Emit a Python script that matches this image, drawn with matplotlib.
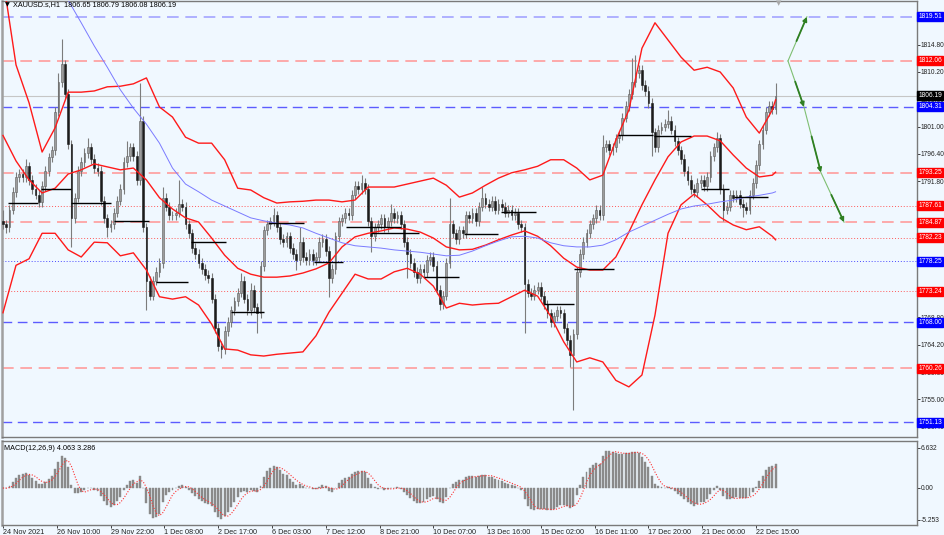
#!/usr/bin/env python
# -*- coding: utf-8 -*-
"""
XAUUSD H1 chart redraw (24 Nov -> 22 Dec 2021) with bands, MA, levels and MACD.

Prices were read off the chart and stored as 2-hour candles.
"""

import numpy as np
import pandas as pd
import matplotlib
matplotlib.use("Agg")
import matplotlib.pyplot as plt

# ============
#  DATA
# ============

FIRST_OPEN = 1785.0

# closes, one per 2-hour candle
CLOSES = [
    1784.5, 1784.0, 1787.0, 1790.0, 1792.5, 1793.0, 1792.5, 1794.3, 1792.0, 1790.5,
    1789.5, 1788.3, 1791.0, 1793.5, 1795.8, 1797.0, 1803.5, 1808.5, 1811.5, 1806.5,
    1798.0, 1785.5, 1789.0, 1793.5, 1795.0, 1796.5, 1797.5, 1795.5, 1794.0, 1793.5,
    1788.5, 1785.5, 1784.0, 1784.5, 1786.5, 1788.5, 1790.5, 1795.0, 1796.0, 1797.5,
    1796.0, 1792.0, 1802.0, 1784.0, 1775.0, 1772.5, 1775.0, 1776.5, 1778.0, 1789.0,
    1787.5, 1786.0, 1786.0, 1786.5, 1788.0, 1787.5, 1784.5, 1783.0, 1780.5, 1779.5,
    1778.0, 1777.0, 1776.0, 1775.5, 1772.0, 1767.0, 1764.0, 1763.5, 1766.5, 1768.0,
    1770.0, 1771.5, 1773.0, 1775.0, 1772.0, 1770.0, 1773.5, 1770.5, 1769.5, 1777.5,
    1783.5, 1784.5, 1785.0, 1786.0, 1784.0, 1782.0, 1781.5, 1782.5, 1780.5, 1779.5,
    1778.5, 1781.5, 1779.0, 1778.5, 1779.5, 1778.5, 1779.0, 1781.5, 1782.0, 1780.0,
    1775.5, 1777.0, 1782.5, 1785.0, 1785.5, 1786.5, 1786.0, 1789.5, 1791.0, 1790.5,
    1791.5, 1790.5, 1785.0, 1782.5, 1784.0, 1784.5, 1785.5, 1784.0, 1785.0, 1786.5,
    1785.5, 1786.0, 1784.5, 1781.5, 1779.5, 1778.0, 1776.5, 1775.5, 1777.0, 1776.5,
    1778.5, 1779.0, 1777.5, 1773.5, 1771.0, 1772.5, 1778.0, 1784.5, 1783.0, 1782.0,
    1783.5, 1783.0, 1786.0, 1785.5, 1786.5, 1785.0, 1787.5, 1789.0, 1788.0, 1787.5,
    1788.5, 1787.0, 1788.0, 1787.5, 1786.5, 1787.0, 1786.0, 1786.5, 1784.5, 1784.0,
    1774.5, 1773.0, 1772.5, 1773.5, 1774.0, 1772.5, 1771.0, 1769.5, 1768.0, 1769.0,
    1770.0, 1769.5, 1767.0, 1765.0, 1762.5, 1766.0, 1776.5, 1779.5, 1781.5, 1783.0,
    1784.5, 1785.5, 1787.0, 1786.0, 1797.5, 1798.0, 1797.0, 1797.5, 1799.0, 1799.5,
    1802.5, 1804.5, 1806.5, 1808.5, 1810.0, 1810.5, 1808.0, 1807.0, 1805.0, 1800.0,
    1797.5, 1800.5, 1801.0, 1801.5, 1802.0, 1800.5, 1798.5, 1797.0, 1795.5, 1793.5,
    1792.0, 1790.5, 1790.0, 1791.5, 1792.0, 1791.0, 1792.5, 1796.0, 1797.5, 1799.0,
    1790.5, 1787.0, 1787.5, 1789.5, 1789.0, 1789.5, 1788.0, 1787.5, 1787.0, 1789.5,
    1791.5, 1794.5, 1798.0, 1800.5, 1803.5, 1804.5, 1804.0, 1806.19,
]

# long wicks that stick out from the usual short ones
WICK_HIGH = {0: 1787.0, 7: 1795.5, 17: 1810.0, 18: 1815.8, 26: 1799.0, 38: 1798.5,
             42: 1808.3, 49: 1790.8, 54: 1792.0, 73: 1776.3, 76: 1774.6, 83: 1787.2,
             91: 1784.0, 110: 1792.8, 119: 1788.0, 137: 1789.0, 147: 1790.8,
             184: 1799.5, 193: 1812.5, 194: 1813.0, 204: 1803.8, 219: 1800.0,
             237: 1808.3}
WICK_LOW = {1: 1783.0, 21: 1780.7, 32: 1782.4, 44: 1770.1, 67: 1762.0, 78: 1766.2,
            90: 1776.8, 100: 1772.2, 113: 1779.8, 124: 1775.5, 134: 1770.0,
            160: 1766.2, 174: 1760.5, 175: 1753.2, 199: 1796.0, 221: 1785.0,
            227: 1785.7}

# bands + moving average, read every 4 candles
BAND_IDX = list(range(0, 237, 4)) + [237]
BB_UPPER = [
    1826.0, 1811.4, 1805.0, 1796.7, 1800.8, 1806.8, 1806.8, 1807.0, 1807.7, 1807.8,
    1808.2, 1809.2, 1804.3, 1802.6, 1799.2, 1798.2, 1798.2, 1795.4, 1790.6, 1790.3,
    1789.0, 1788.1, 1788.3, 1788.4, 1788.6, 1788.6, 1788.3, 1788.6, 1790.8, 1790.8,
    1790.8, 1791.3, 1791.8, 1792.3, 1791.1, 1789.1, 1789.8, 1791.1, 1792.3, 1793.2,
    1793.7, 1794.3, 1795.4, 1795.4, 1794.0, 1792.0, 1792.8, 1798.7, 1803.8, 1814.2,
    1818.5, 1815.6, 1812.7, 1810.5, 1811.0, 1810.2, 1807.5, 1802.6, 1799.9, 1803.8,
    1805.5,
]
BB_MID = [
    1799.5, 1795.2, 1792.0, 1789.8, 1790.6, 1793.0, 1793.7, 1794.7, 1794.2, 1793.7,
    1794.0, 1792.0, 1789.0, 1787.1, 1785.6, 1784.9, 1782.2, 1779.3, 1777.1, 1776.1,
    1775.6, 1775.6, 1775.8, 1776.3, 1777.0, 1778.0, 1780.7, 1782.4, 1783.0, 1783.4,
    1783.9, 1783.7, 1783.2, 1782.2, 1780.7, 1780.2, 1780.3, 1781.0, 1781.9, 1782.7,
    1783.4, 1782.5, 1780.9, 1778.8, 1777.3, 1776.8, 1776.8, 1779.0, 1783.2, 1787.8,
    1792.0, 1795.9, 1798.4, 1799.4, 1799.4, 1798.6, 1796.2, 1794.0, 1792.5, 1792.8,
    1793.3,
]
BB_LOWER = [
    1769.6, 1777.6, 1778.7, 1783.0, 1783.0, 1780.2, 1779.0, 1781.5, 1781.4, 1779.2,
    1779.7, 1776.8, 1772.3, 1771.9, 1772.3, 1770.9, 1767.7, 1763.5, 1763.3, 1762.5,
    1762.3, 1762.6, 1762.8, 1763.0, 1765.7, 1769.7, 1772.9, 1776.1, 1775.3, 1775.3,
    1776.5, 1777.1, 1776.1, 1774.1, 1770.4, 1771.2, 1770.9, 1771.1, 1771.2, 1772.3,
    1773.4, 1772.4, 1769.0, 1764.7, 1761.3, 1762.0, 1761.3, 1758.2, 1757.1, 1759.1,
    1769.2, 1783.0, 1787.8, 1789.6, 1787.8, 1785.7, 1784.4, 1783.6, 1784.1, 1782.5,
    1781.9,
]
MA_BLUE = [
    np.nan, np.nan, np.nan, np.nan, 1826.0, 1822.3, 1818.5, 1814.6, 1811.0, 1807.2,
    1804.1, 1801.4, 1798.2, 1794.0, 1791.3, 1790.0, 1788.6, 1787.6, 1786.6, 1785.6,
    1785.1, 1784.7, 1784.4, 1783.9, 1783.0, 1782.2, 1781.4, 1780.9, 1780.7, 1780.5,
    1780.2, 1780.0, 1779.8, 1779.5, 1779.2, 1779.3, 1780.0, 1780.9, 1781.7, 1782.4,
    1782.5, 1782.2, 1781.4, 1780.9, 1780.7, 1780.7, 1781.0, 1781.9, 1783.2, 1784.2,
    1785.2, 1786.2, 1787.1, 1787.6, 1787.9, 1788.3, 1788.6, 1789.1, 1789.4, 1789.8,
    1790.0,
]

# black step lines (start candle, end candle, price)
SEG_START = [1.5, 11.7, 20.9, 34.0, 46.9, 57.7, 70.0, 81.3, 95.4, 105.2, 112.9,
             129.1, 141.4, 152.8, 166.0, 175.2, 188.7, 199.7, 214.0, 224.2]
SEG_END = [10.7, 20.9, 33.1, 44.8, 56.7, 68.4, 80.0, 92.3, 104.3, 122.1, 127.6,
           139.9, 151.8, 163.5, 175.2, 187.4, 199.4, 211.0, 222.7, 234.7]
SEG_LEVEL = [1788.1, 1790.5, 1788.1, 1785.1, 1774.8, 1781.5, 1769.7, 1784.7, 1778.2,
             1784.1, 1783.1, 1775.6, 1782.9, 1786.6, 1771.1, 1777.0, 1799.6, 1799.4,
             1790.5, 1789.1]

# horizontal levels
LEVELS = [1819.51, 1812.06, 1804.31, 1793.25, 1787.61, 1784.87, 1782.23,
          1778.25, 1773.24, 1768.00, 1760.26, 1751.13]
LEVEL_KIND = ["blue_light", "red_dash", "blue_dash", "red_dash", "red_dot", "red_dash",
              "red_dot", "blue_dot", "red_dot", "blue_dash", "red_dash", "blue_dash"]
BID = 1806.19

# projected path (candle position, price)
UP_PATH_X = [240.8, 246.6]
UP_PATH_Y = [1812.06, 1819.51]
DOWN_PATH_X = [240.8, 245.7, 250.9, 258.0]
DOWN_PATH_Y = [1812.06, 1804.31, 1793.25, 1784.87]

DATE_LABELS = ["24 Nov 2021", "26 Nov 10:00", "29 Nov 22:00", "1 Dec 08:00",
               "2 Dec 17:00", "6 Dec 03:00", "7 Dec 12:00", "8 Dec 21:00",
               "10 Dec 07:00", "13 Dec 16:00", "15 Dec 02:00", "16 Dec 11:00",
               "17 Dec 20:00", "21 Dec 06:00", "22 Dec 15:00"]
DATE_STEP = 16.5  # candles between two labels

MACD_TICKS = [6.632, 0.0, -5.253]

# ============
#  STYLE
# ============

BG = "#f0f8ff"
W, H = 945, 535
PX_PER_CANDLE = 3.26
FS = 5.2
FS_AXIS = 4.8

LEVEL_STYLE = {
    "blue_light": dict(color="#a4a4ff", ls=(0, (7, 4)), lw=1.2, box="#0000ff"),
    "blue_dash": dict(color="#5c5cff", ls=(0, (7, 4)), lw=1.0, box="#0000ff"),
    "red_dash": dict(color="#ff9c9c", ls=(0, (7, 4)), lw=1.2, box="#ff0000"),
    "red_dot": dict(color="#ff5a5a", ls=(0, (1, 2)), lw=0.7, box="#ff0000"),
    "blue_dot": dict(color="#4a4aff", ls=(0, (1, 2)), lw=0.7, box="#0000ff"),
}


def main():
    plt.rcParams["font.family"] = ["Liberation Sans", "DejaVu Sans"]
    fig = plt.figure(figsize=(W / 100, H / 100), dpi=100, facecolor=BG)

    left = 2 / W
    width = (917 - 2) / W
    ax = fig.add_axes([left, 1 - 437 / H, width, (437 - 1) / H], facecolor=BG)
    ax2 = fig.add_axes([left, 1 - 525 / H, width, (525 - 441) / H], facecolor=BG)

    x_max = (917 - 2) / PX_PER_CANDLE - 0.3
    for a in (ax, ax2):
        a.set_xlim(-0.3, x_max)
        for s in a.spines.values():
            s.set_color("#7a7a7a")
            s.set_linewidth(1.0)
        a.spines["left"].set_linewidth(1.8)
        a.spines["left"].set_color("#a0a0a0")

    ax.set_ylim(1822.34 - 437 / 5.93, 1822.34 - 1 / 5.93)

    # --- candles ---
    closes = np.array(CLOSES)
    opens = np.concatenate([[FIRST_OPEN], closes[:-1]])
    idx = np.arange(len(closes))
    highs = np.maximum(opens, closes) + 0.8
    lows = np.minimum(opens, closes) - 0.8
    for k, v in WICK_HIGH.items():
        highs[k] = v
    for k, v in WICK_LOW.items():
        lows[k] = v

    up = closes >= opens
    ax.vlines(idx, lows, highs, color="#7c7c7c", lw=0.8, zorder=3)
    body = np.maximum(np.abs(closes - opens), 0.15)
    ax.bar(idx[up], body[up], bottom=np.minimum(opens, closes)[up], width=0.55,
           color="#9c9c9c", edgecolor="#5e5e5e", linewidth=0.4, zorder=4)
    ax.bar(idx[~up], body[~up], bottom=np.minimum(opens, closes)[~up], width=0.55,
           color="#1c1c1c", edgecolor="#1c1c1c", linewidth=0.4, zorder=4)

    # --- levels ---
    for lvl, kind in zip(LEVELS, LEVEL_KIND):
        st = LEVEL_STYLE[kind]
        ax.axhline(lvl, color=st["color"], ls=st["ls"], lw=st["lw"], zorder=1)
    ax.axhline(BID, color="#c6c6c6", lw=0.8, zorder=1)

    # --- bands + MA ---
    for band in (BB_UPPER, BB_MID, BB_LOWER):
        ax.plot(BAND_IDX, band, color="#ff1a1a", lw=1.0, zorder=5)
    ax.plot(BAND_IDX, MA_BLUE, color="#7a7aff", lw=0.7, zorder=5)

    # --- black step lines ---
    ax.hlines(SEG_LEVEL, SEG_START, SEG_END, color="black", lw=1.0, zorder=6)

    # --- projected path ---
    dark_green = "#2f7f22"
    for xs, ys in ((UP_PATH_X, UP_PATH_Y), (DOWN_PATH_X, DOWN_PATH_Y)):
        ax.plot(xs, ys, color="#7fbf72", lw=0.8, zorder=7)
        for i in range(len(xs) - 1):
            ax.annotate("", xy=(xs[i + 1], ys[i + 1]),
                        xytext=(xs[i] + 0.45 * (xs[i + 1] - xs[i]),
                                ys[i] + 0.45 * (ys[i + 1] - ys[i])),
                        arrowprops=dict(arrowstyle="-|>", color=dark_green, lw=1.3,
                                        mutation_scale=6, shrinkA=0, shrinkB=0),
                        zorder=8)

    # --- right price axis ---
    ax.yaxis.tick_right()
    ticks = np.arange(1750.40, 1822.0, 4.6)
    ax.set_yticks(ticks)
    ax.set_yticklabels([f"{t:.2f}" for t in ticks])
    ax.tick_params(axis="y", labelsize=FS_AXIS, length=2, width=0.6, pad=0.4,
                   colors="#222222")
    ax.set_xticks([])

    def price_box(val, color, text_color="white"):
        ax.annotate(f"{val:.2f}", xy=(1.0, val), xycoords=("axes fraction", "data"),
                    xytext=(1.0, 0), textcoords="offset points", ha="left", va="center",
                    fontsize=FS_AXIS, color=text_color, zorder=20, annotation_clip=False,
                    bbox=dict(boxstyle="square,pad=0.15", fc=color, ec=color))

    for lvl, kind in zip(LEVELS, LEVEL_KIND):
        price_box(lvl, LEVEL_STYLE[kind]["box"])
    price_box(BID, "black")

    # --- MACD panel ---
    s = pd.Series(closes)
    macd = s.ewm(span=6, adjust=False).mean() - s.ewm(span=13, adjust=False).mean()
    signal = macd.rolling(4, min_periods=1).mean()
    ax2.set_ylim(-(525 - 488) * 0.1658, (488 - 441) * 0.1658)
    ax2.bar(idx, macd.values, width=0.6, color="#8a8a8a", edgecolor="#8a8a8a",
            linewidth=0.3, zorder=3)
    ax2.plot(idx, signal.values, color="#ff3030", ls=(0, (1, 1.5)), lw=0.8, zorder=4)
    ax2.yaxis.tick_right()
    ax2.set_yticks(MACD_TICKS)
    ax2.set_yticklabels(["6.632", "0.00", "-5.253"])
    ax2.tick_params(axis="y", labelsize=FS_AXIS, length=2, width=0.6, pad=0.4,
                    colors="#222222")

    ax2.set_xticks(np.arange(len(DATE_LABELS)) * DATE_STEP)
    ax2.set_xticklabels(DATE_LABELS)
    ax2.tick_params(axis="x", labelsize=FS, length=2.5, width=0.6, pad=0.5,
                    colors="#222222")
    for lab in ax2.get_xticklabels():
        lab.set_horizontalalignment("left")

    # --- header texts ---
    fig.text(5 / W, 1 - 5 / H, "\u25bc", fontsize=4.5, color="black",
             va="center", ha="left", family="DejaVu Sans")
    fig.text(13 / W, 1 - 5 / H, "XAUUSD.s,H1  1806.65 1806.79 1806.08 1806.19",
             fontsize=FS, color="black", va="center", ha="left")
    fig.text(4 / W, 1 - 448 / H, "MACD(12,26,9) 4.063 3.286",
             fontsize=FS, color="black", va="center", ha="left")
    fig.text(779 / W, 1 - 3 / H, "\u25bc", fontsize=5, color="#a8a8a8",
             va="center", ha="center", family="DejaVu Sans")

    fig.savefig("out.png", dpi=100, facecolor=BG)


if __name__ == "__main__":
    main()
